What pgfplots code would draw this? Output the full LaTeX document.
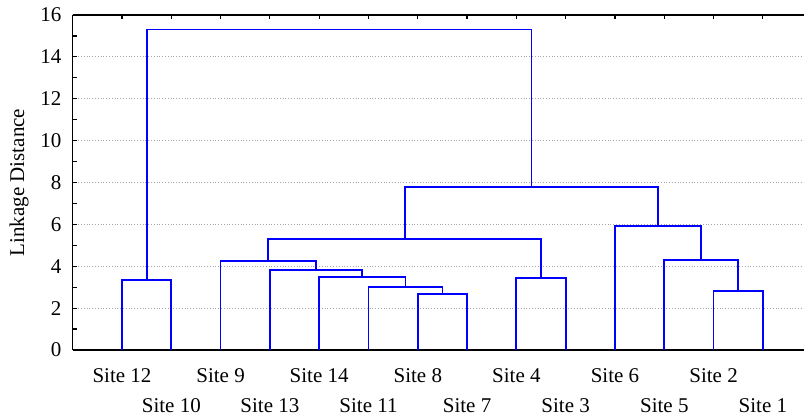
\documentclass[border=0pt]{standalone}
\usepackage{fontspec}
\setmainfont{Liberation Serif}
\usepackage{pgfplots}
\pgfplotsset{compat=1.18}
\definecolor{dendblue}{RGB}{0,0,255}
\pgfplotsset{dend/.style={color=dendblue, line width=0.9pt, solid, mark=none, line join=miter, line cap=butt}}
\begin{document}
\fontsize{10.5}{12.6}\selectfont
\begin{tikzpicture}
\begin{axis}[
  at={(0,0)}, anchor=south west,
  scale only axis,
  width=365.65pt, height=167.5pt,
  xmin=0, xmax=14.834, ymin=0, ymax=16,
  axis y line*=left,
  axis line style={line width=0.7pt, black},
  tick align=inside,
  major tick length=2.2pt, minor tick length=2pt,
  tick style={black, line width=0.6pt},
  ytick={0,2,...,16}, minor y tick num=1,
  ymajorgrids,
  major grid style={densely dotted, gray!70, line width=0.4pt},
  /pgf/number format/assume math mode=true,
  tick label style={font=\fontsize{10.5}{12.6}\selectfont},
  label style={font=\fontsize{10.5}{12.6}\selectfont},
  yticklabel style={xshift=-2pt},
  xtick={1,3,5,7,9,11,13},
  xticklabels={Site 12,Site 9,Site 14,Site 8,Site 4,Site 6,Site 2},
  extra x ticks={2,4,6,8,10,12,14},
  extra x tick labels={Site 10,Site 13,Site 11,Site 7,Site 3,Site 5,Site 1},
  xticklabel style={anchor=base, yshift=-16.5pt},
  extra x tick style={xticklabel style={yshift=-15pt}},
  ylabel={Linkage Distance},
  ylabel style={at={(axis description cs:-0.0734,0.5)}, anchor=center},
]
% A: 12-10
\addplot[dend] coordinates {(1,0) (1,3.36) (2,3.36) (2,0)};
% B: 8-7
\addplot[dend] coordinates {(7,0) (7,2.69) (8,2.69) (8,0)};
% C: 11-(8,7)
\addplot[dend] coordinates {(6,0) (6,2.99) (7.5,2.99) (7.5,2.69)};
% D: 14-C
\addplot[dend] coordinates {(5,0) (5,3.50) (6.75,3.50) (6.75,2.99)};
% E: 13-D
\addplot[dend] coordinates {(4,0) (4,3.81) (5.875,3.81) (5.875,3.50)};
% F: 9-E
\addplot[dend] coordinates {(3,0) (3,4.25) (4.9375,4.25) (4.9375,3.81)};
% G: 4-3
\addplot[dend] coordinates {(9,0) (9,3.45) (10,3.45) (10,0)};
% H: F-G
\addplot[dend] coordinates {(3.96875,4.25) (3.96875,5.29) (9.5,5.29) (9.5,3.45)};
% I: 2-1
\addplot[dend] coordinates {(13,0) (13,2.83) (14,2.83) (14,0)};
% J: 5-I
\addplot[dend] coordinates {(12,0) (12,4.28) (13.5,4.28) (13.5,2.83)};
% K: 6-J
\addplot[dend] coordinates {(11,0) (11,5.94) (12.75,5.94) (12.75,4.28)};
% L: H-K
\addplot[dend] coordinates {(6.734375,5.29) (6.734375,7.80) (11.875,7.80) (11.875,5.94)};
% M: A-L
\addplot[dend] coordinates {(1.5,3.36) (1.5,15.31) (9.3046875,15.31) (9.3046875,7.80)};
\end{axis}
\pgfresetboundingbox
\path (-36.35pt,-33pt) rectangle (365.65pt,175pt);
\end{tikzpicture}
\end{document}
